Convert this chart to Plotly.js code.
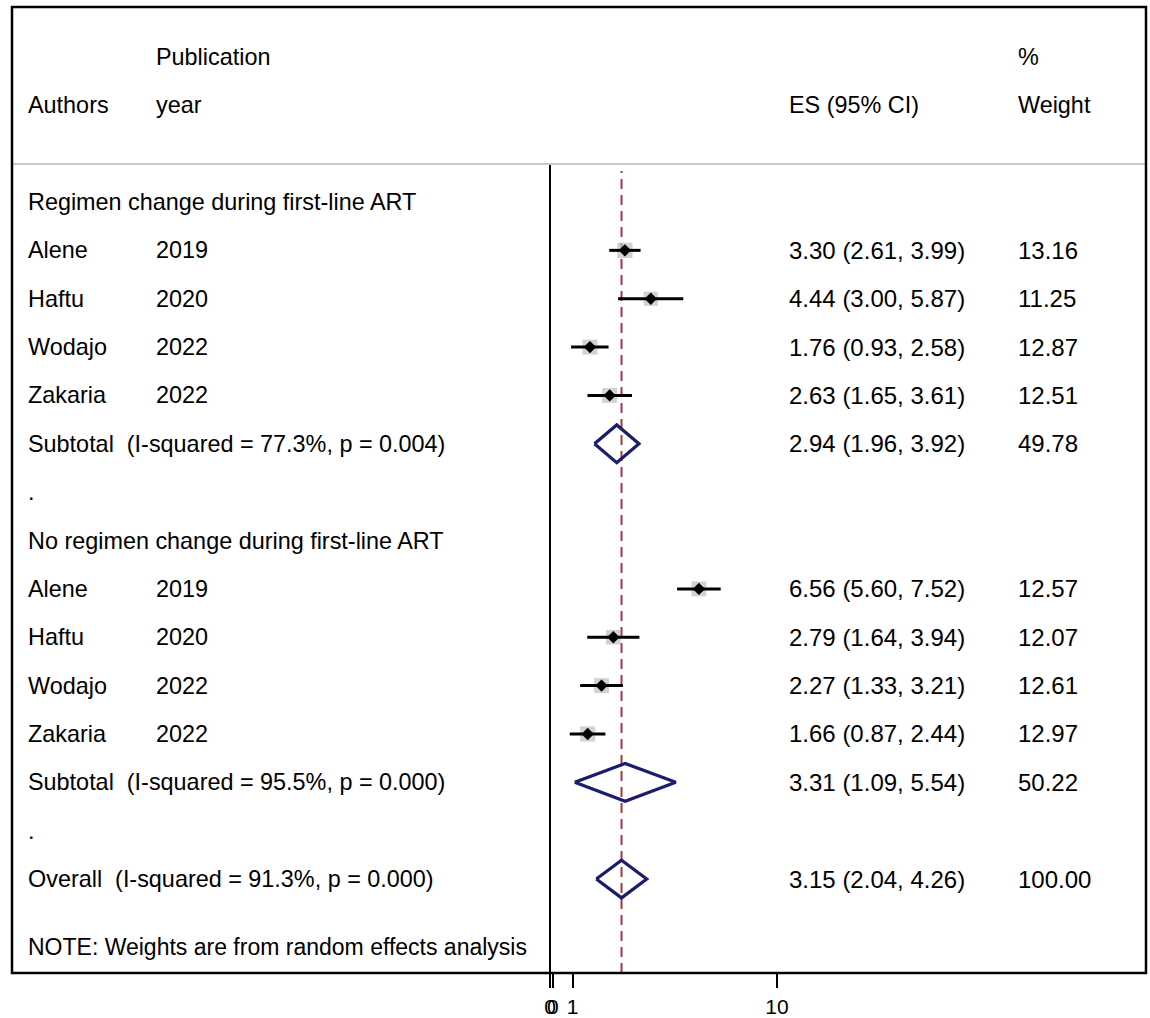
<!DOCTYPE html>
<html>
<head>
<meta charset="utf-8">
<script src="https://cdn.plot.ly/plotly-3.0.1.min.js"></script>
<style>
  html, body { margin: 0; padding: 0; background: #fff; }
  #chart { width: 1150px; height: 1018px; }
</style>
</head>
<body>
<div id="chart"></div>
<script>
// ---------------- data ----------------
const group1Label = "Regimen change during first-line ART";
const group2Label = "No regimen change during first-line ART";

const authors1 = ["Alene", "Haftu", "Wodajo", "Zakaria"];
const years1   = ["2019", "2020", "2022", "2022"];
const es1      = [3.30, 4.44, 1.76, 2.63];
const lo1      = [2.61, 3.00, 0.93, 1.65];
const hi1      = [3.99, 5.87, 2.58, 3.61];
const weight1  = [13.16, 11.25, 12.87, 12.51];

const authors2 = ["Alene", "Haftu", "Wodajo", "Zakaria"];
const years2   = ["2019", "2020", "2022", "2022"];
const es2      = [6.56, 2.79, 2.27, 1.66];
const lo2      = [5.60, 1.64, 1.33, 0.87];
const hi2      = [7.52, 3.94, 3.21, 2.44];
const weight2  = [12.57, 12.07, 12.61, 12.97];

// subtotal / overall: [es, lo, hi, weight], heterogeneity text
const sub1     = [2.94, 1.96, 3.92, 49.78];
const sub1Het  = ["77.3%", "0.004"];
const sub2     = [3.31, 1.09, 5.54, 50.22];
const sub2Het  = ["95.5%", "0.000"];
const overall  = [3.15, 2.04, 4.26, 100.00];
const overallHet = ["91.3%", "0.000"];

const tickVals   = [0, 0.12, 1, 10];
const tickLabels = ["0", "0", "1", "10"];
const noteText = "NOTE: Weights are from random effects analysis";

// ---------------- layout geometry ----------------
const W = 1150, H = 1018;
const PL = 12, PR = 1146, PT = 7, PB = 973;
const X0PX = 550, PXPERUNIT = 22.7;
const ROW0PX = 202, ROWPX = 48.36;
const xr = [-(X0PX - PL) / PXPERUNIT, (PR - X0PX) / PXPERUNIT];
const yr = [(PB - ROW0PX) / ROWPX, (PT - ROW0PX) / ROWPX];
const px = p => (p - 3 - PL) / (PR - PL);

const FONT = "Liberation Sans, Arial, Helvetica, sans-serif";
const FS = 23.4;
const NAVY = "#1a1d6c";
const MAROON = "#9e3b4b";

// row assignments
const rowsG1 = [1, 2, 3, 4];
const rowSub1 = 5;
const rowsG2 = [8, 9, 10, 11];
const rowSub2 = 12;
const rowOverall = 14;

const fmtCI = (e, l, h) => e.toFixed(2) + " (" + l.toFixed(2) + ", " + h.toFixed(2) + ")";
const NB = "\u00a0";

const C1 = 29, C2 = 157, C3 = 790, C4 = 1019;

const ann = [];
function txt(xpx, row, s, size) {
  ann.push({
    xref: "paper", yref: "y", x: px(xpx), y: row, text: s,
    xanchor: "left", yanchor: "middle", showarrow: false,
    font: { family: FONT, size: size || FS, color: "#000" }
  });
}

// header
txt(C2, -3, "Publication");
txt(C4, -3, "%");
txt(C1, -2, "Authors");
txt(C2, -2, "year");
txt(C3, -2, "ES (95% CI)");
txt(C4, -2, "Weight");

// group 1
txt(C1, 0, group1Label);
authors1.forEach((a, i) => {
  txt(C1, rowsG1[i], a);
  txt(C2, rowsG1[i], years1[i]);
  txt(C3, rowsG1[i], fmtCI(es1[i], lo1[i], hi1[i]), 24);
  txt(C4, rowsG1[i], weight1[i].toFixed(2), 24);
});
txt(C1, rowSub1, "Subtotal" + NB + NB + "(I-squared = " + sub1Het[0] + ", p = " + sub1Het[1] + ")");
txt(C3, rowSub1, fmtCI(sub1[0], sub1[1], sub1[2]), 24);
txt(C4, rowSub1, sub1[3].toFixed(2), 24);
txt(C1, 6, ".");

// group 2
txt(C1, 7, group2Label);
authors2.forEach((a, i) => {
  txt(C1, rowsG2[i], a);
  txt(C2, rowsG2[i], years2[i]);
  txt(C3, rowsG2[i], fmtCI(es2[i], lo2[i], hi2[i]), 24);
  txt(C4, rowsG2[i], weight2[i].toFixed(2), 24);
});
txt(C1, rowSub2, "Subtotal" + NB + NB + "(I-squared = " + sub2Het[0] + ", p = " + sub2Het[1] + ")");
txt(C3, rowSub2, fmtCI(sub2[0], sub2[1], sub2[2]), 24);
txt(C4, rowSub2, sub2[3].toFixed(2), 24);
txt(C1, 13, ".");

txt(C1, rowOverall, "Overall" + NB + NB + "(I-squared = " + overallHet[0] + ", p = " + overallHet[1] + ")");
txt(C3, rowOverall, fmtCI(overall[0], overall[1], overall[2]), 24);
txt(C4, rowOverall, overall[3].toFixed(2), 24);
txt(C1, 15.41, noteText, 23);

// ---------------- traces ----------------
const allES = es1.concat(es2);
const allLo = lo1.concat(lo2);
const allHi = hi1.concat(hi2);
const allW  = weight1.concat(weight2);
const allRows = rowsG1.concat(rowsG2);

const boxes = {
  type: "scatter", mode: "markers", x: allES, y: allRows, hoverinfo: "skip",
  marker: { symbol: "square", color: "#bfbfbf", size: allW.map(w => 4.2 * Math.sqrt(w)), line: { width: 0 } },
  showlegend: false
};
const ci = {
  type: "scatter", mode: "markers", x: allES, y: allRows, hoverinfo: "skip",
  marker: { size: 0.1, color: "rgba(0,0,0,0)" },
  error_x: {
    type: "data", symmetric: false,
    array: allHi.map((h, i) => h - allES[i]),
    arrayminus: allLo.map((l, i) => allES[i] - l),
    color: "#000", thickness: 3, width: 0
  },
  showlegend: false
};
const pts = {
  type: "scatter", mode: "markers", x: allES, y: allRows, hoverinfo: "skip",
  marker: { symbol: "diamond", color: "#000", size: 9.5 },
  showlegend: false
};

const DH = 0.39;
function diamond(v, row) {
  return {
    type: "scatter", mode: "lines", hoverinfo: "skip", showlegend: false,
    x: [v[1], v[0], v[2], v[0], v[1]],
    y: [row, row - DH, row, row + DH, row],
    line: { color: NAVY, width: 3.2 }
  };
}

const traces = [boxes, ci, pts, diamond(sub1, rowSub1), diamond(sub2, rowSub2), diamond(overall, rowOverall)];

const shapes = [
  // gray separator
  { type: "line", xref: "paper", yref: "paper", x0: 0, x1: 1,
    y0: (PB - 164) / (PB - PT), y1: (PB - 164) / (PB - PT),
    line: { color: "#c8c8c8", width: 2 } },
  // null line at 0
  { type: "line", xref: "x", yref: "paper", x0: 0, x1: 0,
    y0: 0, y1: (PB - 165) / (PB - PT), line: { color: "#000", width: 2 } },
  // overall effect dashed line
  { type: "line", xref: "x", yref: "paper", x0: overall[0], x1: overall[0],
    y0: 0, y1: (PB - 171) / (PB - PT), line: { color: MAROON, width: 2, dash: "10px,6px" }, layer: "below" },
  // border
  { type: "rect", xref: "paper", yref: "paper", x0: 0, x1: 1, y0: 0, y1: 1,
    line: { color: "#000", width: 2.5 } }
];

const layout = {
  width: W, height: H,
  margin: { l: PL, r: W - PR, t: PT, b: H - PB, pad: 0 },
  paper_bgcolor: "#fff", plot_bgcolor: "#fff",
  showlegend: false,
  xaxis: {
    range: xr, showgrid: false, zeroline: false, showline: false,
    tickmode: "array", tickvals: tickVals, ticktext: tickLabels, tickangle: 0,
    ticks: "outside", ticklen: 14, tickwidth: 2, tickcolor: "#000",
    ticklabelstandoff: 1,
    tickfont: { family: FONT, size: 21, color: "#000" }, fixedrange: true
  },
  yaxis: { range: yr, visible: false, fixedrange: true },
  annotations: ann,
  shapes: shapes
};

Plotly.newPlot("chart", traces, layout, { displayModeBar: false, staticPlot: true });
</script>
</body>
</html>
